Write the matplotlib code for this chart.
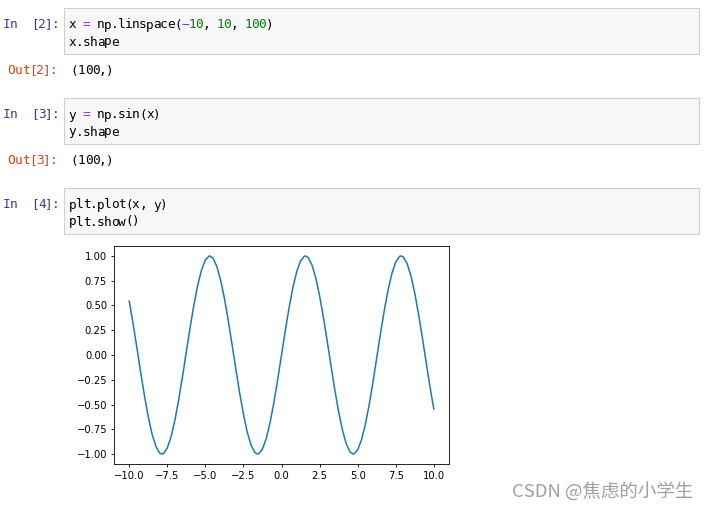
import matplotlib.pyplot as plt
from matplotlib.patches import Rectangle

# sine samples
xs = [-10, -9.75, -9.5, -9.25, -9, -8.75, -8.5, -8.25, -8, -7.85, -7.75, -7.5,
      -7.25, -7, -6.75, -6.5, -6.25, -6, -5.75, -5.5, -5.25, -5, -4.75, -4.71,
      -4.5, -4.25, -4, -3.75, -3.5, -3.25, -3, -2.75, -2.5, -2.25, -2, -1.75,
      -1.57, -1.5, -1.25, -1, -0.75, -0.5, -0.25, 0,
      0.25, 0.5, 0.75, 1, 1.25, 1.5, 1.57, 1.75, 2, 2.25, 2.5, 2.75, 3, 3.25,
      3.5, 3.75, 4, 4.25, 4.5, 4.71, 4.75, 5, 5.25, 5.5, 5.75, 6, 6.25, 6.5,
      6.75, 7, 7.25, 7.5, 7.75, 7.85, 8, 8.25, 8.5, 8.75, 9, 9.25, 9.5, 9.75, 10]
ys = [0.544, 0.320, 0.075, -0.174, -0.412, -0.625, -0.798, -0.923, -0.989, -1.0,
      -0.995, -0.938, -0.823, -0.657, -0.450, -0.215, 0.033, 0.279, 0.508, 0.706,
      0.859, 0.959, 0.999, 1.0, 0.978, 0.895, 0.757, 0.572, 0.351, 0.108, -0.141,
      -0.382, -0.598, -0.778, -0.909, -0.984, -1.0, -0.997, -0.949, -0.841,
      -0.682, -0.479, -0.247, 0.0,
      0.247, 0.479, 0.682, 0.841, 0.949, 0.997, 1.0, 0.984, 0.909, 0.778, 0.598,
      0.382, 0.141, -0.108, -0.351, -0.572, -0.757, -0.895, -0.978, -1.0, -0.999,
      -0.959, -0.859, -0.706, -0.508, -0.279, -0.033, 0.215, 0.450, 0.657, 0.823,
      0.938, 0.995, 1.0, 0.989, 0.923, 0.798, 0.625, 0.412, 0.174, -0.075, -0.320,
      -0.544]
xticks = [-10.0, -7.5, -5.0, -2.5, 0.0, 2.5, 5.0, 7.5, 10.0]
yticks = [-1.0, -0.75, -0.5, -0.25, 0.0, 0.25, 0.5, 0.75, 1.0]

# notebook cells: prompt number, code lines as (text, colour) segments, output
cells = [
    ("2", [[("x ", "k"), ("=", "#AA22FF"), (" np.linspace(", "k"), ("\u2212", "#AA22FF"),
            ("10", "#008000"), (", ", "k"), ("10", "#008000"), (", ", "k"),
            ("100", "#008000"), (")", "k")],
           [("x.shape", "k")]], "(100,)"),
    ("3", [[("y ", "k"), ("=", "#AA22FF"), (" np.sin(x)", "k")],
           [("y.shape", "k")]], "(100,)"),
    ("4", [[("plt.plot(x, y)", "k")], [("plt.show()", "k")]], None),
]
cell_tops = [8, 98, 188]
out_y = [70, 160]

W, H = 711, 511
fig = plt.figure(figsize=(W / 100, H / 100), dpi=100)
fig.patch.set_facecolor("white")

page = fig.add_axes([0, 0, 1, 1])
page.set_xlim(0, W)
page.set_ylim(H, 0)
page.axis("off")

mono = "DejaVu Sans Mono"
fs = 9.2
cw = 7.03


def mono_text(x0, y, txt, c):
    # one character per fixed-width cell, y is the line centre
    for k, ch in enumerate(txt):
        if ch != " ":
            page.text(x0 + (k + 0.5) * cw, y + 4.5, ch, color=c, family=mono,
                      fontsize=fs, ha="center", va="baseline")


for i, (num, lines, out) in enumerate(cells):
    top = cell_tops[i]
    page.add_patch(Rectangle((63.5, top + 0.5), 635, 46, facecolor="#f7f7f7",
                             edgecolor="#cfcfcf", lw=0.8))
    mono_text(3, top + 16, "In  [%s]:" % num, "#303F9F")
    for j, segs in enumerate(lines):
        col = 0
        for txt, c in segs:
            mono_text(69 + col * cw, top + 16 + j * 17, txt, c)
            col += len(txt)
    if out:
        mono_text(8, out_y[i], "Out[%s]:" % num, "#D84315")
        mono_text(71, out_y[i], out, "k")

page.text(512, 492, "CSDN @焦虑的小学生", color="#a0a0a0", fontsize=13.3,
          family=["Noto Sans CJK SC", "DejaVu Sans"], va="center")

ax = fig.add_axes([114 / W, 1 - 464 / H, 335 / W, 218 / H])
ax.plot(xs, ys, color="#1f77b4", lw=1.1)
ax.set_xticks(xticks)
ax.set_yticks(yticks)
ax.set_xticklabels([("%.1f" % t).replace("-", "\u2212") for t in xticks])
ax.set_yticklabels([("%.2f" % t).replace("-", "\u2212") for t in yticks])
ax.tick_params(labelsize=7.2, length=2.5, width=0.6, pad=2.5)
for s in ax.spines.values():
    s.set_linewidth(0.6)

fig.savefig("out.png", dpi=100)
